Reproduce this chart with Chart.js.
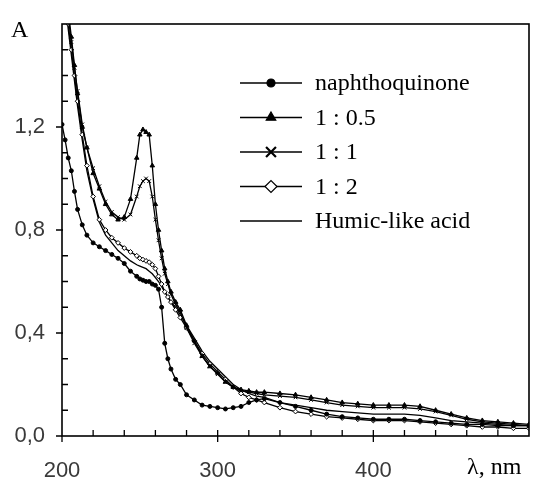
<!DOCTYPE html>
<html>
<head>
<meta charset="utf-8">
<script src="https://cdn.jsdelivr.net/npm/chart.js@4"></script>
<style>
  html, body { margin: 0; padding: 0; background: #fff; }
  #wrap { width: 537px; height: 485px; }
</style>
</head>
<body>
<div id="wrap"><canvas id="specChart" width="537" height="485"></canvas></div>
<script>
// wavelengths, nm
const wavelengths = [200, 202, 204, 206, 208, 210, 213, 216, 220, 224, 228, 232, 236, 240, 244, 248, 250, 252, 254, 256, 258, 260, 262, 264, 266, 268, 270, 273, 276, 280, 285, 290, 295, 300, 305, 310, 315, 320, 325, 330, 340, 350, 360, 370, 380, 390, 400, 410, 420, 430, 440, 450, 460, 470, 480, 490, 500];

// absorbance of each sample
const naphthoquinone = [1.21, 1.15, 1.08, 1.03, 0.95, 0.88, 0.82, 0.78, 0.75, 0.735, 0.72, 0.705, 0.69, 0.67, 0.64, 0.62, 0.61, 0.605, 0.60, 0.60, 0.59, 0.585, 0.57, 0.50, 0.36, 0.30, 0.26, 0.22, 0.20, 0.16, 0.14, 0.12, 0.115, 0.11, 0.105, 0.11, 0.115, 0.13, 0.14, 0.145, 0.13, 0.115, 0.10, 0.085, 0.075, 0.07, 0.065, 0.065, 0.065, 0.06, 0.055, 0.05, 0.045, 0.045, 0.04, 0.04, 0.04];
const ratio1to05 = [1.9, 1.75, 1.65, 1.55, 1.44, 1.33, 1.2, 1.12, 1.02, 0.96, 0.90, 0.86, 0.84, 0.85, 0.92, 1.08, 1.17, 1.19, 1.18, 1.17, 1.05, 0.90, 0.80, 0.72, 0.65, 0.60, 0.56, 0.52, 0.49, 0.43, 0.37, 0.31, 0.27, 0.245, 0.21, 0.19, 0.18, 0.175, 0.17, 0.17, 0.165, 0.16, 0.15, 0.14, 0.13, 0.125, 0.12, 0.12, 0.12, 0.115, 0.10, 0.085, 0.07, 0.06, 0.055, 0.05, 0.045];
const ratio1to1 = [1.9, 1.75, 1.63, 1.53, 1.43, 1.34, 1.21, 1.12, 1.04, 0.97, 0.91, 0.87, 0.85, 0.84, 0.86, 0.93, 0.97, 0.99, 1.0, 0.99, 0.93, 0.84, 0.76, 0.69, 0.63, 0.59, 0.55, 0.51, 0.48, 0.42, 0.36, 0.31, 0.27, 0.24, 0.21, 0.19, 0.175, 0.17, 0.165, 0.16, 0.155, 0.15, 0.14, 0.13, 0.12, 0.115, 0.11, 0.11, 0.11, 0.105, 0.095, 0.08, 0.065, 0.055, 0.05, 0.045, 0.04];
const ratio1to2 = [1.9, 1.72, 1.6, 1.5, 1.4, 1.3, 1.17, 1.05, 0.93, 0.84, 0.80, 0.77, 0.75, 0.73, 0.715, 0.70, 0.69, 0.685, 0.68, 0.675, 0.665, 0.65, 0.62, 0.59, 0.56, 0.54, 0.52, 0.49, 0.46, 0.42, 0.37, 0.32, 0.28, 0.25, 0.22, 0.19, 0.165, 0.15, 0.14, 0.13, 0.11, 0.095, 0.085, 0.075, 0.07, 0.065, 0.06, 0.06, 0.06, 0.055, 0.05, 0.045, 0.04, 0.035, 0.035, 0.03, 0.03];
const humicAcid = [1.9, 1.7, 1.58, 1.48, 1.38, 1.28, 1.15, 1.03, 0.92, 0.83, 0.78, 0.75, 0.72, 0.70, 0.68, 0.665, 0.66, 0.655, 0.65, 0.64, 0.63, 0.615, 0.60, 0.58, 0.56, 0.54, 0.52, 0.50, 0.47, 0.43, 0.38, 0.33, 0.29, 0.26, 0.23, 0.20, 0.18, 0.165, 0.155, 0.15, 0.13, 0.12, 0.11, 0.10, 0.095, 0.09, 0.085, 0.085, 0.085, 0.08, 0.07, 0.06, 0.055, 0.05, 0.045, 0.04, 0.04];

const seriesNames = ['naphthoquinone', '1 : 0.5', '1 : 1', '1 : 2', 'Humic-like acid'];
const yTicks = [0, 0.4, 0.8, 1.2];
const xTicks = [200, 300, 400];

function pts(values) {
    return wavelengths.map((w, i) => ({ x: w, y: values[i] }));
}

function makeSet(label, values, style, radius, fill, legendRadius) {
    return {
        label: label,
        data: pts(values),
        borderColor: '#000',
        borderWidth: 1.3,
        pointStyle: style,
        pointRadius: radius,
        pointBackgroundColor: fill,
        pointBorderColor: '#000',
        pointBorderWidth: 1,
        legendRadius: legendRadius,
        tension: 0
    };
}

// frame, ticks, axis names and the legend
const framePlugin = {
    id: 'frame',
    afterDraw(chart) {
        const ctx = chart.ctx;
        const a = chart.chartArea;
        const xs = chart.scales.x, ys = chart.scales.y;
        ctx.save();
        ctx.strokeStyle = '#000';
        ctx.lineWidth = 1.6;
        ctx.strokeRect(a.left, a.top, a.right - a.left, a.bottom - a.top);

        ctx.lineWidth = 1.3;
        ctx.beginPath();
        for (let v = 0.1; v < 1.6; v += 0.1) {
            const y = ys.getPixelForValue(v);
            const major = yTicks.some(t => Math.abs(t - v) < 1e-6);
            if (major) { ctx.moveTo(a.left - 6, y); ctx.lineTo(a.left + 1, y); }
            else { ctx.moveTo(a.left, y); ctx.lineTo(a.left + 6, y); }
        }
        ctx.moveTo(a.left - 6, a.bottom); ctx.lineTo(a.left, a.bottom);
        for (let w = 220; w < 500; w += 20) {
            const x = xs.getPixelForValue(w);
            const major = xTicks.includes(w);
            if (major) { ctx.moveTo(x, a.bottom - 6); ctx.lineTo(x, a.bottom + 6); }
            else { ctx.moveTo(x, a.bottom); ctx.lineTo(x, a.bottom - 6); }
        }
        ctx.moveTo(a.left, a.bottom); ctx.lineTo(a.left, a.bottom + 6);
        ctx.stroke();

        ctx.fillStyle = '#000';
        ctx.font = '24px "Liberation Serif"';
        ctx.textBaseline = 'middle';
        ctx.textAlign = 'left';
        ctx.fillText('A', 11, 31);
        ctx.fillText('\u03bb, nm', 467, 468);

        // legend
        const x0 = 240, x1 = 302, tx = 315;
        ctx.font = '24px "Liberation Serif"';
        chart.data.datasets.forEach((ds, i) => {
            const y = 83 + i * 34.5;
            ctx.strokeStyle = '#000';
            ctx.lineWidth = 1.5;
            ctx.beginPath();
            ctx.moveTo(x0, y); ctx.lineTo(x1, y);
            ctx.stroke();
            if (ds.legendRadius > 0) {
                ctx.fillStyle = ds.pointBackgroundColor;
                ctx.lineWidth = ds.pointStyle === 'crossRot' ? 2.2 : 1.2;
                Chart.helpers.drawPoint(ctx, {
                    pointStyle: ds.pointStyle,
                    radius: ds.legendRadius,
                    borderWidth: ctx.lineWidth,
                    rotation: 0
                }, (x0 + x1) / 2, y);
            }
            ctx.fillStyle = '#000';
            ctx.fillText(ds.label, tx, y + 1);
        });
        ctx.restore();
    }
};

new Chart(document.getElementById('specChart'), {
    type: 'line',
    data: {
        datasets: [
            makeSet(seriesNames[0], naphthoquinone, 'circle', 2, '#000', 4),
            makeSet(seriesNames[1], ratio1to05, 'triangle', 2.6, '#000', 5.5),
            makeSet(seriesNames[2], ratio1to1, 'crossRot', 2.6, '#000', 7),
            makeSet(seriesNames[3], ratio1to2, 'rectRot', 2.4, '#fff', 6),
            makeSet(seriesNames[4], humicAcid, 'circle', 0, '#000', 0)
        ]
    },
    options: {
        responsive: false,
        animation: false,
        layout: { padding: { top: 24, right: 8, left: 0, bottom: 0 } },
        plugins: {
            legend: { display: false },
            tooltip: { enabled: false }
        },
        scales: {
            x: {
                type: 'linear',
                min: 200,
                max: 500,
                grid: { display: false, drawTicks: false },
                border: { display: false },
                afterFit: s => { s.height = 49; s.paddingLeft = 0; s.paddingRight = 0; },
                ticks: {
                    stepSize: 100,
                    padding: 22,
                    maxRotation: 0,
                    color: '#3a3a3a',
                    font: { family: 'Liberation Sans', size: 22 },
                    callback: v => xTicks.includes(v) ? String(v) : ''
                }
            },
            y: {
                min: 0,
                max: 1.6,
                grid: { display: false, drawTicks: false },
                border: { display: false },
                afterFit: s => { s.width = 62; s.paddingTop = 0; s.paddingBottom = 0; },
                ticks: {
                    stepSize: 0.4,
                    padding: 17,
                    color: '#3a3a3a',
                    font: { family: 'Liberation Sans', size: 22 },
                    callback: v => yTicks.some(t => Math.abs(t - v) < 1e-6) ? v.toFixed(1).replace('.', ',') : ''
                }
            }
        }
    },
    plugins: [framePlugin]
});
</script>
</body>
</html>
